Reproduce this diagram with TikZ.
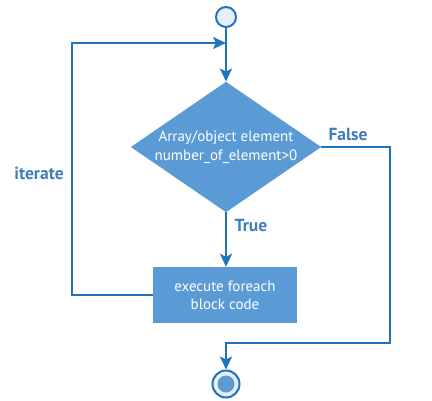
\documentclass[tikz,border=0pt]{standalone}
\usepackage{fontspec}
\setmainfont{PT Sans}
\usetikzlibrary{shapes.geometric,arrows.meta,positioning}
\definecolor{flowline}{HTML}{1F74BD}
\definecolor{flowfill}{HTML}{5B9BD5}
\definecolor{flowtext}{HTML}{3F7DB8}
\definecolor{flowlight}{HTML}{E8EEF7}
\begin{document}
\begin{tikzpicture}[x=1pt,y=-1pt,
  line/.style={draw=flowline, line width=2pt, -{Stealth[length=13pt,width=12pt,inset=3pt]}},
  decision/.style={diamond, fill=flowfill, text=white, inner sep=0pt, aspect=1.46,
    minimum width=190pt, minimum height=130pt, align=center, font=\fontsize{15}{19}\selectfont},
  process/.style={rectangle, fill=flowfill, text=white, minimum width=144pt,
    minimum height=56pt, align=center, font=\fontsize{15}{18}\selectfont},
  lbl/.style={text=flowtext, font=\bfseries\fontsize{17.5}{20}\selectfont}]
\useasboundingbox (0,0) rectangle (432,400);
\node[circle, draw=flowline, line width=2pt, fill=flowlight, minimum size=20pt, inner sep=0pt] (start) at (226,17) {};
\node[decision] (cond) at (226,147) {Array/object element\\number\_of\_element>0};
\node[process] (body) at (225,295) {execute foreach\\block code};
\node[circle, draw=flowline, line width=2pt, fill=flowlight, minimum size=27pt, inner sep=0pt] (stop) at (226,384) {};
\fill[flowfill] (stop.center) circle (8.5pt);
\coordinate (join) at (226,43);
\coordinate (falseend) at (390,343);
% connectors
\draw[line] (start) -- (cond.north);
\draw[line] (cond.south) -- (body.north -| cond.south);
\draw[line] (body.west) -| (72,43) -- (join);
\draw[line] (cond.east) -| (falseend) -| (stop.north);
% labels
\node[lbl] (lfalse) at (348,134) {False};
\node[lbl] (ltrue) at (251,225) {True};
\node[lbl] (liter) at (39,173) {iterate};
\end{tikzpicture}
\end{document}
